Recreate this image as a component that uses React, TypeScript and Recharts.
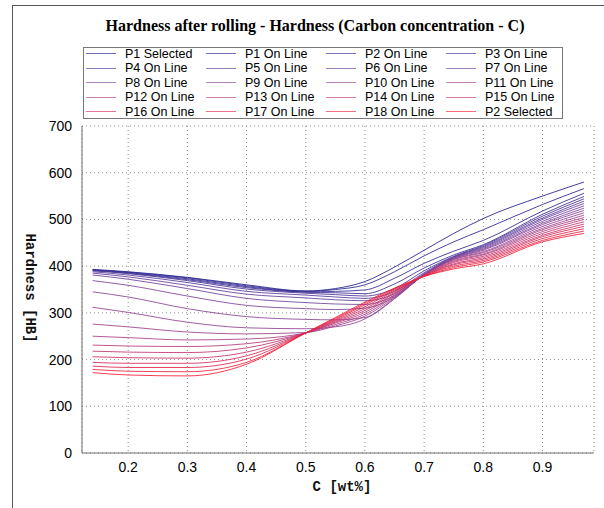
import { CartesianGrid, Line, LineChart, XAxis, YAxis } from "recharts";

// carbon content (wt%) at which every profile is sampled
const carbon = [0.14, 0.2, 0.3, 0.4, 0.5, 0.55, 0.6, 0.65, 0.7, 0.75, 0.8, 0.9, 0.97];

const seriesNames = [
  "P1 Selected", "P1 On Line", "P2 On Line", "P3 On Line",
  "P4 On Line", "P5 On Line", "P6 On Line", "P7 On Line",
  "P8 On Line", "P9 On Line", "P10 On Line", "P11 On Line",
  "P12 On Line", "P13 On Line", "P14 On Line", "P15 On Line",
  "P16 On Line", "P17 On Line", "P18 On Line", "P2 Selected",
];

const seriesColors = [
  "#1e1e8c", "#28238f", "#322892", "#3c2d95", "#4a3398",
  "#57389a", "#643c9b", "#71409a", "#7d4298", "#884395",
  "#934291", "#9e408b", "#a93d84", "#b4397b", "#bf3571",
  "#ca3066", "#d52b5a", "#e0264d", "#eb2140", "#f51c33",
];

// hardness [HB], one row per series, one value per carbon step
const hardness: number[][] = [
  [393, 388, 376, 360, 347, 352, 367, 398, 434, 470, 502, 550, 580],
  [392, 387, 375, 358, 346, 350, 360, 388, 422, 452, 478, 532, 566],
  [392, 386, 373, 356, 345, 346, 349, 374, 406, 432, 455, 518, 556],
  [391, 385, 371, 354, 344, 343, 341, 362, 396, 424, 446, 511, 549],
  [390, 384, 369, 351, 342, 339, 336, 352, 390, 421, 444, 507, 544],
  [388, 381, 365, 346, 338, 334, 331, 346, 386, 420, 442, 503, 539],
  [385, 377, 359, 340, 332, 328, 326, 341, 384, 419, 440, 500, 534],
  [381, 372, 352, 331, 322, 319, 318, 337, 382, 418, 438, 496, 529],
  [369, 359, 336, 316, 309, 307, 310, 334, 382, 417, 436, 492, 524],
  [345, 334, 309, 292, 286, 285, 290, 330, 382, 416, 434, 489, 519],
  [312, 301, 280, 268, 266, 270, 287, 331, 381, 415, 431, 485, 514],
  [276, 270, 259, 255, 258, 272, 293, 333, 381, 414, 429, 481, 509],
  [250, 247, 242, 244, 257, 275, 297, 336, 381, 412, 426, 478, 504],
  [231, 229, 228, 234, 257, 278, 301, 339, 380, 410, 424, 474, 500],
  [218, 216, 215, 225, 257, 280, 305, 342, 380, 408, 421, 470, 495],
  [206, 204, 203, 216, 257, 282, 309, 344, 380, 405, 418, 466, 490],
  [194, 192, 192, 208, 257, 284, 313, 347, 379, 403, 415, 463, 485],
  [186, 183, 183, 201, 257, 286, 317, 349, 379, 400, 412, 459, 480],
  [179, 175, 174, 194, 257, 288, 320, 351, 378, 397, 409, 455, 475],
  [172, 167, 165, 190, 257, 290, 323, 353, 378, 394, 405, 452, 470],
];

const xTicks = [0.2, 0.3, 0.4, 0.5, 0.6, 0.7, 0.8, 0.9];
const yTicks = [0, 100, 200, 300, 400, 500, 600, 700];
const xDomain = [0.122, 0.987];
const yDomain = [0, 700];

const xMinorTicks = Array.from({ length: 43 }, (_, i) => Number((0.14 + i * 0.02).toFixed(2)));
const yMinorTicks = Array.from({ length: 36 }, (_, i) => i * 20);

const rows = carbon.map((c, i) => {
  const row: Record<string, number> = { c };
  hardness.forEach((vals, s) => {
    row[`s${s}`] = vals[i];
  });
  return row;
});

const AXIS = "#707070";
const tickFont = { fontSize: 14, fill: "#000", fontFamily: "'Liberation Sans', Arial, sans-serif" };
const monoLabel = {
  position: "absolute" as const,
  fontFamily: "'Liberation Mono', 'Courier New', monospace",
  fontWeight: 700,
  fontSize: 14,
  whiteSpace: "nowrap" as const,
  color: "#111",
};

function LegendBox() {
  return (
    <div
      style={{
        position: "absolute",
        left: 83,
        top: 47,
        width: 478,
        height: 70,
        border: "1px solid #777",
        background: "#fff",
        fontFamily: "'Liberation Sans', Arial, sans-serif",
        fontSize: 12.5,
      }}
    >
      {seriesNames.map((name, i) => {
        const col = i % 4;
        const row = Math.floor(i / 4);
        return (
          <div
            key={name}
            style={{
              position: "absolute",
              left: 2 + col * 120,
              top: row * 14.6 - 1.5,
              height: 14,
              display: "flex",
              alignItems: "center",
              whiteSpace: "nowrap",
            }}
          >
            <svg width={30} height={3} style={{ marginRight: 9 }}>
              <line x1={0} y1={1.5} x2={30} y2={1.5} stroke={seriesColors[i]} strokeOpacity={0.65} strokeWidth={1} />
            </svg>
            <span>{name}</span>
          </div>
        );
      })}
    </div>
  );
}

export default function App() {
  return (
    <div style={{ position: "absolute", left: 0, top: 0, width: 604, height: 508, background: "#fff", overflow: "hidden" }}>
      <div style={{ position: "absolute", left: 12, top: 5, right: -2, bottom: -2, borderLeft: "1px solid #555", borderTop: "1px solid #555" }} />
      <LineChart width={604} height={508} data={rows} margin={{ top: 126, right: 10, bottom: 25, left: 32 }}>
        <CartesianGrid stroke="#8c8c8c" strokeDasharray="1 3" />
        <XAxis
          xAxisId="minor"
          dataKey="c"
          type="number"
          domain={xDomain}
          ticks={xMinorTicks}
          interval={0}
          mirror
          height={0}
          tick={false}
          tickSize={4}
          tickLine={{ stroke: AXIS }}
          axisLine={false}
          allowDataOverflow
        />
        <XAxis
          dataKey="c"
          type="number"
          domain={xDomain}
          ticks={xTicks}
          interval={0}
          height={30}
          tickSize={0}
          tickMargin={9}
          tickLine={false}
          axisLine={{ stroke: AXIS }}
          tick={tickFont}
          tickFormatter={(v: number) => v.toFixed(1)}
          allowDataOverflow
        />
        <XAxis
          xAxisId="top"
          orientation="top"
          dataKey="c"
          type="number"
          domain={xDomain}
          height={0}
          tick={false}
          tickLine={false}
          axisLine={{ stroke: AXIS }}
          allowDataOverflow
        />
        <YAxis
          yAxisId="minor"
          type="number"
          domain={yDomain}
          ticks={yMinorTicks}
          interval={0}
          mirror
          width={0}
          tick={false}
          tickSize={4}
          tickLine={{ stroke: AXIS }}
          axisLine={false}
          allowDataOverflow
        />
        <YAxis
          type="number"
          domain={yDomain}
          ticks={yTicks}
          interval={0}
          width={50}
          tickSize={0}
          tickMargin={10}
          tickLine={false}
          axisLine={{ stroke: AXIS }}
          tick={tickFont}
          allowDataOverflow
        />
        <YAxis
          yAxisId="right"
          orientation="right"
          type="number"
          domain={yDomain}
          width={0}
          tick={false}
          tickLine={false}
          axisLine={{ stroke: AXIS }}
          allowDataOverflow
        />
        {seriesNames.map((name, s) => (
          <Line
            key={name}
            name={name}
            dataKey={`s${s}`}
            type="monotone"
            stroke={seriesColors[s]}
            strokeOpacity={0.85}
            strokeWidth={1}
            dot={false}
            activeDot={false}
            isAnimationActive={false}
          />
        ))}
      </LineChart>
      <div
        style={{
          position: "absolute",
          left: 315,
          top: 26,
          transform: "translate(-50%, -50%)",
          fontFamily: "'Liberation Serif', 'Times New Roman', serif",
          fontWeight: 700,
          fontSize: 16,
          whiteSpace: "nowrap",
        }}
      >
        Hardness after rolling - Hardness (Carbon concentration - C)
      </div>
      <LegendBox />
      <div style={{ ...monoLabel, left: 30, top: 288, transform: "translate(-50%, -50%) rotate(90deg)" }}>Hardness [HB]</div>
      <div style={{ ...monoLabel, left: 342, top: 487, transform: "translate(-50%, -50%)" }}>C [wt%]</div>
    </div>
  );
}
